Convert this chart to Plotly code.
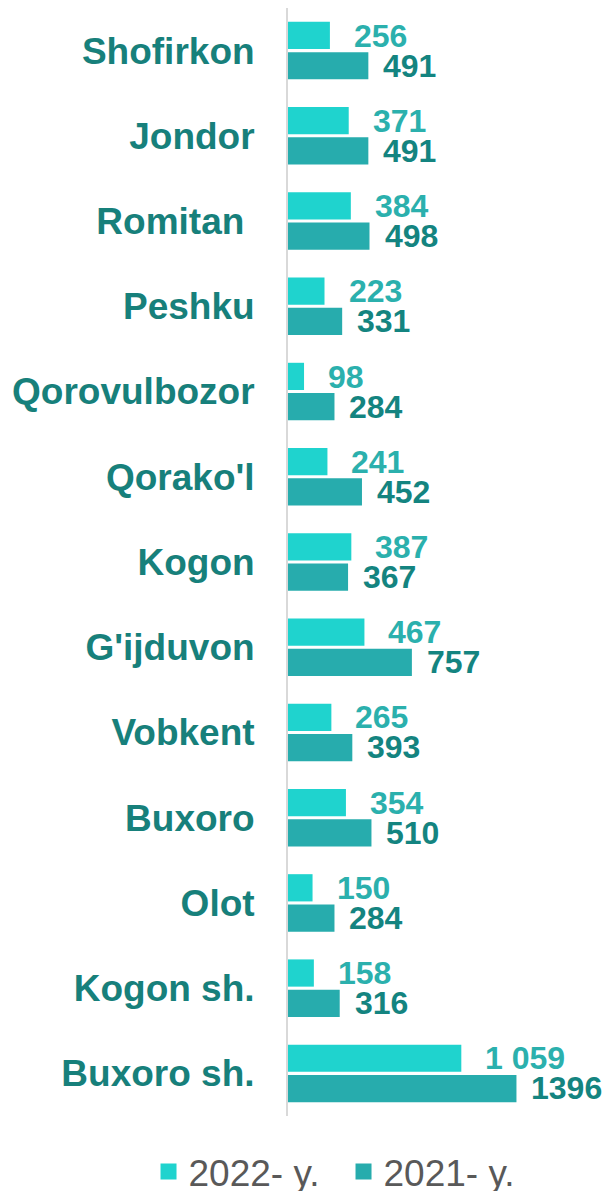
import plotly.graph_objects as go

categories = ["Shofirkon", "Jondor", "Romitan\u00a0", "Peshku", "Qorovulbozor", "Qorako'l",
              "Kogon", "G'ijduvon", "Vobkent", "Buxoro", "Olot", "Kogon sh.", "Buxoro sh."]
values_2022 = [256, 371, 384, 223, 98, 241, 387, 467, 265, 354, 150, 158, 1059]
values_2021 = [491, 491, 498, 331, 284, 452, 367, 757, 393, 510, 284, 316, 1396]
series_names = ["2022- y.", "2021- y."]

c2022 = "#1FD3CE"
c2021 = "#27ACAD"
lab2022 = "#2BB0AD"
lab2021 = "#148480"
catcol = "#17807B"

def fmt_space(v):
    return f"{v:,}".replace(",", " ")

fig = go.Figure()
fig.add_trace(go.Bar(y=categories, x=values_2022, orientation="h", marker=dict(color=c2022, line=dict(width=0)),
                     name=series_names[0], showlegend=False))
fig.add_trace(go.Bar(y=categories, x=values_2021, orientation="h", marker=dict(color=c2021, line=dict(width=0)),
                     name=series_names[1], showlegend=False))
# legend proxies with square swatches
fig.add_trace(go.Scatter(x=[None], y=[None], mode="markers", name=series_names[0],
                         marker=dict(symbol="square", size=20, color=c2022)))
fig.add_trace(go.Scatter(x=[None], y=[None], mode="markers", name=series_names[1],
                         marker=dict(symbol="square", size=20, color=c2021)))

ann = []
for cat, v in zip(categories, values_2022):
    ann.append(dict(x=v, y=cat, xref="x", yref="y", text=fmt_space(v), showarrow=False,
                    xanchor="left", yanchor="middle", xshift=22, yshift=15,
                    font=dict(family="Liberation Sans, Arial", size=32, color=lab2022, weight="bold")))
for cat, v in zip(categories, values_2021):
    ann.append(dict(x=v, y=cat, xref="x", yref="y", text=str(v), showarrow=False,
                    xanchor="left", yanchor="middle", xshift=13, yshift=-15,
                    font=dict(family="Liberation Sans, Arial", size=32, color=lab2021, weight="bold")))

fig.update_layout(
    width=605, height=1191,
    margin=dict(l=288, r=0, t=8, b=75, pad=0, autoexpand=False),
    paper_bgcolor="white", plot_bgcolor="white",
    barmode="group", bargap=0.29, bargroupgap=0.1,
    annotations=ann,
    showlegend=True,
    legend=dict(orientation="h", xref="paper", x=-0.44, xanchor="left",
                yref="paper", y=-0.0505, yanchor="middle",
                font=dict(family="Liberation Sans, Arial", size=37, color="#595959"),
                itemwidth=30, entrywidth=150, traceorder="normal"),
    xaxis=dict(range=[0, 1937], visible=False, showgrid=False, zeroline=False),
    yaxis=dict(autorange="reversed", showline=True, linecolor="#D9D9D9", linewidth=2,
               ticks="", showgrid=False, ticklabelstandoff=24,
               tickfont=dict(family="Liberation Sans, Arial", size=37, color=catcol, weight="bold")),
)

fig.write_html("out.html", config={"displayModeBar": False},
               post_script="document.body.style.margin='0px';")
